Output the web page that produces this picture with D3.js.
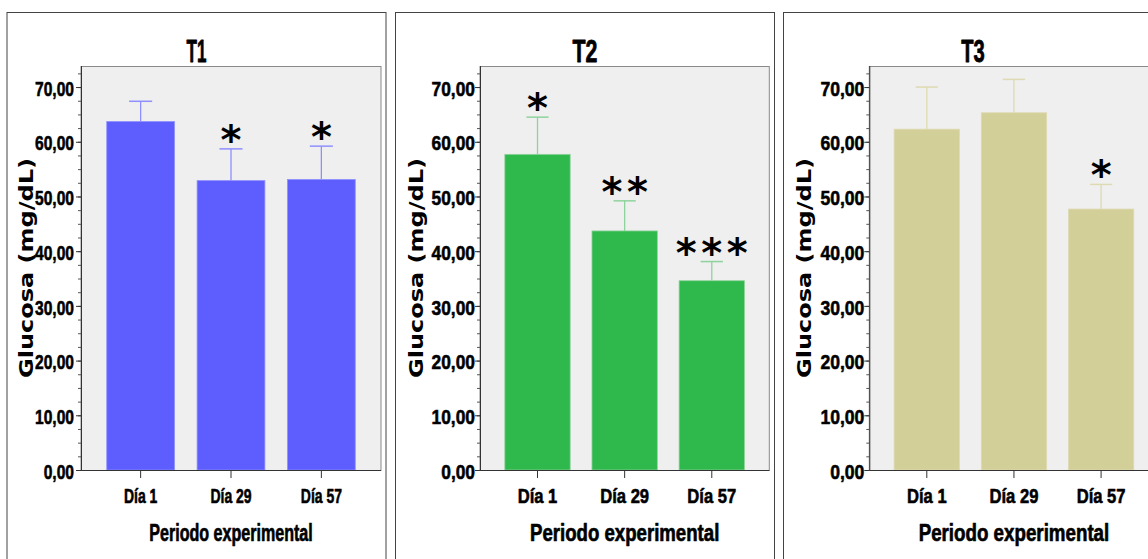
<!DOCTYPE html>
<html>
<head>
<meta charset="utf-8">
<script src="https://cdn.jsdelivr.net/npm/d3@7"></script>
<style>
  html, body { margin: 0; padding: 0; background: #ffffff; }
  svg { display: block; }
</style>
</head>
<body>
<svg id="chart" width="1148" height="559"></svg>
<script>
// Glucose (mg/dL) per treatment over the experimental period
const categories = ["Día 1", "Día 29", "Día 57"];
const groups = ["T1", "T2", "T3"];

const meanT1 = [63.7, 52.9, 53.1];
const errT1  = [3.7, 5.8, 6.1];
const meanT2 = [57.7, 43.7, 34.6];
const errT2  = [6.8, 5.5, 3.5];
const meanT3 = [62.3, 65.3, 47.7];
const errT3  = [7.7, 6.1, 4.5];

// number of significance asterisks above each bar
const starsT1 = [0, 1, 1];
const starsT2 = [1, 2, 3];
const starsT3 = [0, 0, 1];

const yTicks = [0, 10, 20, 30, 40, 50, 60, 70];
const yMinorTicks = d3.range(0, 73, 2.5);
const yMax = 73.85;
const yTitle = "Glucosa (mg/dL)";
const xTitle = "Periodo experimental";

const series = [
  { name: groups[0], mean: meanT1, err: errT1, stars: starsT1 },
  { name: groups[1], mean: meanT2, err: errT2, stars: starsT2 },
  { name: groups[2], mean: meanT3, err: errT3, stars: starsT3 }
];

// panel layout and styling
const styles = [
  { box: [7, 12, 379], plot: [81, 381], ylabX: 33, fill: "#5e5eff", line: "#8f8fff",
    sx: { tick: 0.80, cat: 0.665, xt: 0.656, title: 0.56 }, tickPad: 2 },
  { box: [395.5, 12, 379], plot: [480, 769.3], ylabX: 422.5, fill: "#2fb84b", line: "#8fd39c",
    sx: { tick: 0.89, cat: 0.79, xt: 0.76, title: 0.70 }, tickPad: 0 },
  { box: [783.5, 12, 379], plot: [869.3, 1158.6], ylabX: 810.5, fill: "#d3cf98", line: "#dedab3",
    sx: { tick: 0.90, cat: 0.79, xt: 0.765, title: 0.66 }, tickPad: 0 }
];

const plotTop = 66, plotBottom = 470;
const narrow = "'Liberation Sans', Arial, sans-serif";
const svg = d3.select("#chart");
const fmt = v => d3.format(".2f")(v).replace(".", ",");

// condense a text horizontally and thicken its strokes a little
function squeeze(sel, sx, weight) {
  sel.each(function () {
    const w = this.getComputedTextLength();
    d3.select(this)
      .attr("textLength", w * sx).attr("lengthAdjust", "spacingAndGlyphs")
      .attr("stroke", "#000").attr("stroke-width", weight)
      .attr("stroke-linejoin", "round");
  });
}

series.forEach((s, k) => {
  const st = styles[k];
  const g = svg.append("g");

  // outer panel frame
  g.append("rect")
    .attr("x", st.box[0]).attr("y", st.box[1] + 0.5)
    .attr("width", st.box[2]).attr("height", 700)
    .attr("fill", "none").attr("stroke", "#444").attr("stroke-width", 1);

  const x = d3.scaleBand().domain(categories)
    .range([st.plot[0], st.plot[1]]).paddingInner(0.25).paddingOuter(0.285);
  const y = d3.scaleLinear().domain([0, yMax]).range([plotBottom, plotTop]);

  // plot background
  g.append("rect")
    .attr("x", st.plot[0]).attr("y", plotTop + 0.5)
    .attr("width", st.plot[1] - st.plot[0]).attr("height", plotBottom - plotTop)
    .attr("fill", "#efefef").attr("stroke", "#8a8a8a").attr("stroke-width", 1);

  // bars
  g.selectAll("rect.bar").data(s.mean).join("rect").attr("class", "bar")
    .attr("x", (d, i) => x(categories[i]))
    .attr("width", x.bandwidth())
    .attr("y", d => y(d))
    .attr("height", d => y(0) - y(d))
    .attr("fill", st.fill)
    .attr("stroke", st.line).attr("stroke-width", 0.8);

  // error bars (upper whisker)
  const cap = x.bandwidth() * 0.34;
  s.mean.forEach((m, i) => {
    const cx = x(categories[i]) + x.bandwidth() / 2;
    const top = m + s.err[i];
    g.append("line").attr("x1", cx).attr("x2", cx)
      .attr("y1", y(m)).attr("y2", y(top))
      .attr("stroke", st.line).attr("stroke-width", 1.3);
    g.append("line").attr("x1", cx - cap / 2).attr("x2", cx + cap / 2)
      .attr("y1", y(top)).attr("y2", y(top))
      .attr("stroke", st.line).attr("stroke-width", 1.5);

    // significance asterisks
    const n = s.stars[i];
    for (let j = 0; j < n; j++) {
      g.append("text")
        .attr("x", cx + (j - (n - 1) / 2) * 25.5)
        .attr("y", y(top) - 10 + 15)
        .attr("text-anchor", "middle")
        .attr("font-family", "'DejaVu Sans', sans-serif")
        .attr("font-weight", "bold")
        .attr("font-size", 40)
        .attr("fill", "#000")
        .text("*");
    }
  });

  // y axis: minor ticks
  g.append("g").attr("transform", `translate(${st.plot[0]},0)`)
    .call(d3.axisLeft(y).tickValues(yMinorTicks).tickSize(3).tickFormat(""))
    .call(a => a.select(".domain").remove())
    .call(a => a.selectAll("line").attr("stroke", "#555"));

  // y axis: major ticks with labels
  const ya = g.append("g").attr("transform", `translate(${st.plot[0]},0)`)
    .call(d3.axisLeft(y).tickValues(yTicks).tickSize(5).tickPadding(st.tickPad).tickFormat(fmt))
    .call(a => a.select(".domain").attr("stroke", "#333").attr("d", `M0.5,${plotTop}V${plotBottom}`))
    .call(a => a.selectAll("line").attr("stroke", "#333"));
  ya.selectAll("text")
    .attr("font-family", narrow).attr("font-weight", "bold")
    .attr("font-size", 19.5).attr("fill", "#000").attr("dy", "0.42em")
    .call(squeeze, st.sx.tick, 0.55);

  // x axis
  const xa = g.append("g").attr("transform", `translate(0,${plotBottom})`)
    .call(d3.axisBottom(x).tickSize(8).tickPadding(10))
    .call(a => a.select(".domain").attr("stroke", "#333").attr("d", `M${st.plot[0]},0.5H${st.plot[1]}`))
    .call(a => a.selectAll("line").attr("stroke", "#333"));
  xa.selectAll("text")
    .attr("font-family", narrow).attr("font-weight", "bold")
    .attr("font-size", 21).attr("fill", "#000")
    .call(squeeze, st.sx.cat, 0.6);

  // panel title
  g.append("text")
    .attr("x", st.box[0] + st.box[2] / 2).attr("y", 62)
    .attr("text-anchor", "middle")
    .attr("font-family", narrow).attr("font-weight", "bold").attr("font-size", 30.5)
    .text(s.name)
    .call(squeeze, st.sx.title, 0.8);

  // x axis title
  g.append("text")
    .attr("x", (st.plot[0] + st.plot[1]) / 2).attr("y", 541)
    .attr("text-anchor", "middle")
    .attr("font-family", narrow).attr("font-weight", "bold").attr("font-size", 24.5)
    .text(xTitle)
    .call(squeeze, st.sx.xt, 0.7);

  // y axis title
  g.append("text")
    .attr("transform", `translate(${st.ylabX},${(plotTop + plotBottom) / 2}) rotate(-90)`)
    .attr("text-anchor", "middle")
    .attr("font-family", "'DejaVu Sans', sans-serif").attr("font-weight", "bold")
    .attr("font-size", 20)
    .attr("textLength", 220).attr("lengthAdjust", "spacingAndGlyphs")
    .text(yTitle);
});
</script>
</body>
</html>
